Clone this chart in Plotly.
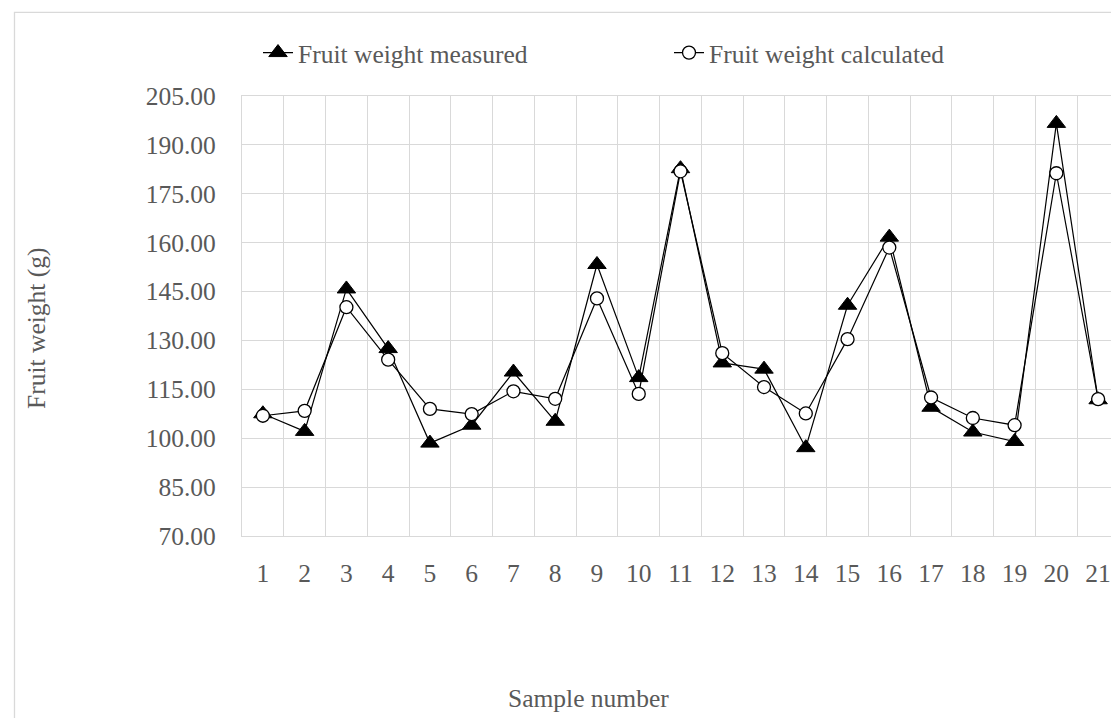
import plotly.graph_objects as go

samples = [str(i) for i in range(1, 22)]
measured = [107.5, 102.1, 145.8, 127.5, 98.5, 104.0, 120.3, 105.2, 153.3, 118.6, 182.7,
            123.1, 121.2, 97.1, 140.8, 161.7, 109.5, 101.9, 99.0, 196.6, 111.8]
calculated = [106.9, 108.4, 140.2, 124.1, 109.0, 107.4, 114.4, 112.1, 142.9, 113.6, 181.9,
              126.1, 115.7, 107.6, 130.4, 158.5, 112.5, 106.2, 104.0, 181.3, 112.0]
y_ticks = [70, 85, 100, 115, 130, 145, 160, 175, 190, 205]

FONT = "Liberation Serif, Times New Roman, serif"
TXT = "#595959"
GRID = "#d9d9d9"

W, H = 1119, 718
L, R, T, B = 234, 8, 88, 190
PW, PH = W - L - R, H - T - B


def px(x):
    return (x - L) / PW


def py(y):
    return (H - B - y) / PH


fig = go.Figure()
fig.add_trace(go.Scatter(
    x=samples, y=measured, name="Fruit weight measured", mode="lines+markers",
    line=dict(color="black", width=1.2),
    marker=dict(symbol="triangle-up", size=16, color="black", line=dict(color="black", width=1)),
))
fig.add_trace(go.Scatter(
    x=samples, y=calculated, name="Fruit weight calculated", mode="lines+markers",
    line=dict(color="black", width=1.2),
    marker=dict(symbol="circle", size=13, color="white", line=dict(color="black", width=1.3)),
))

fig.update_layout(
    width=W, height=H,
    margin=dict(l=L, r=R, t=T, b=B),
    paper_bgcolor="white", plot_bgcolor="white",
    font=dict(family=FONT, size=25.5, color=TXT),
    showlegend=True,
    legend=dict(
        orientation="h", x=px(250), xanchor="left", y=py(45), yanchor="middle",
        font=dict(family=FONT, size=25.5, color=TXT),
        entrywidth=366, entrywidthmode="pixels",
        bgcolor="rgba(0,0,0,0)",
    ),
    xaxis=dict(
        type="category", range=[-0.5, 20.5], tickson="boundaries",
        showgrid=True, gridcolor=GRID, gridwidth=1.3,
        showline=True, linecolor=GRID, linewidth=1.3, mirror=True,
        ticks="", ticklabelstandoff=14, zeroline=False,
        tickfont=dict(family=FONT, size=25.5, color=TXT),
    ),
    yaxis=dict(
        range=[70, 205], tickvals=y_ticks, tickformat=".2f",
        showgrid=True, gridcolor=GRID, gridwidth=1.3,
        showline=True, linecolor=GRID, linewidth=1.3, mirror=True,
        ticks="", ticklabelstandoff=20, zeroline=False,
        tickfont=dict(family=FONT, size=25.5, color=TXT),
    ),
    annotations=[
        dict(text="Fruit weight (g)", xref="paper", yref="paper", x=px(28), y=py(321),
             textangle=-90, showarrow=False, xanchor="center", yanchor="middle",
             font=dict(family=FONT, size=25.5, color=TXT)),
        dict(text="Sample number", xref="paper", yref="paper", x=px(580), y=py(690),
             showarrow=False, xanchor="center", yanchor="middle",
             font=dict(family=FONT, size=25.5, color=TXT)),
    ],
    shapes=[
        dict(type="rect", xref="paper", yref="paper", x0=px(6.5), y0=py(760), x1=px(1160), y1=py(4.3),
             line=dict(color=GRID, width=1.3), fillcolor="rgba(0,0,0,0)", layer="below"),
    ],
)

fig.write_html("out.html")
